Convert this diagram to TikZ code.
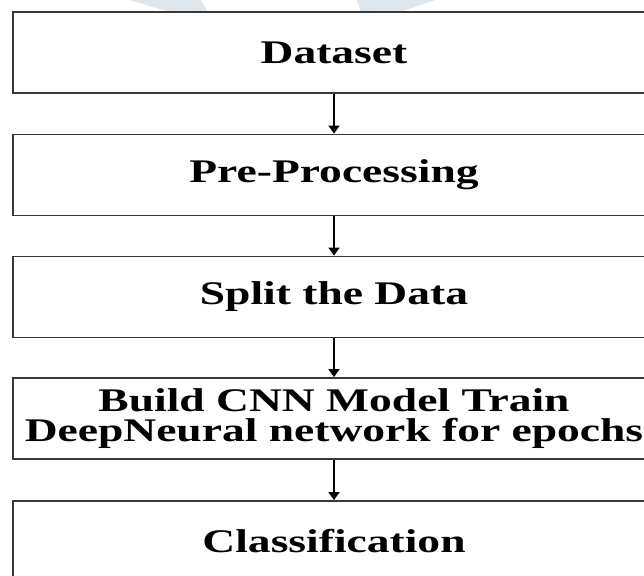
\documentclass[tikz,border=0pt]{standalone}
\usepackage{fontspec}
\setmainfont{Liberation Serif}
\newfontfamily\widebold[FakeStretch=1.38]{Liberation Serif}
\usetikzlibrary{arrows.meta}

\definecolor{edgegray}{HTML}{383838}
\definecolor{markblue}{HTML}{DFE7EC}

\tikzset{
  stage/.style={draw=edgegray, line width=1.8pt, fill=white, rectangle,
    minimum width=642pt, minimum height=81pt, inner sep=0pt, align=center,
    font=\widebold\bfseries\fontsize{33}{30}\selectfont},
  flow/.style={line width=1.6pt, black, -{Triangle[width=11pt,length=8pt]}}
}

\begin{document}
\begin{tikzpicture}[x=1pt, y=-1pt]
  \useasboundingbox (0,0) rectangle (644,575);
  \clip (0,0) rectangle (644,575);
  \fill[white] (0,0) rectangle (644,575);

  % faint background mark at the top edge
  \fill[markblue] (129,0) -- (201,0) -- (209,14) -- (177,14) -- cycle;
  \fill[markblue] (357,0) -- (435,0) -- (394,14) -- (361,14) -- cycle;

  % process stages
  \node[stage] (b1) at (334,52.5)  {Dataset};
  \node[stage] (b2) at (334,175)   {Pre-Processing};
  \node[stage] (b3) at (334,297)   {Split the Data};
  \node[stage] (b4) at (334,418.5) {Build CNN Model Train\\DeepNeural network for epochs};
  \node[stage] (b5) at (334,541.5) {Classification};

  % flow between stages
  \draw[flow] (b1.south) -- (b2.north);
  \draw[flow] (b2.south) -- (b3.north);
  \draw[flow] (b3.south) -- (b4.north);
  \draw[flow] (b4.south) -- (b5.north);
\end{tikzpicture}
\end{document}
